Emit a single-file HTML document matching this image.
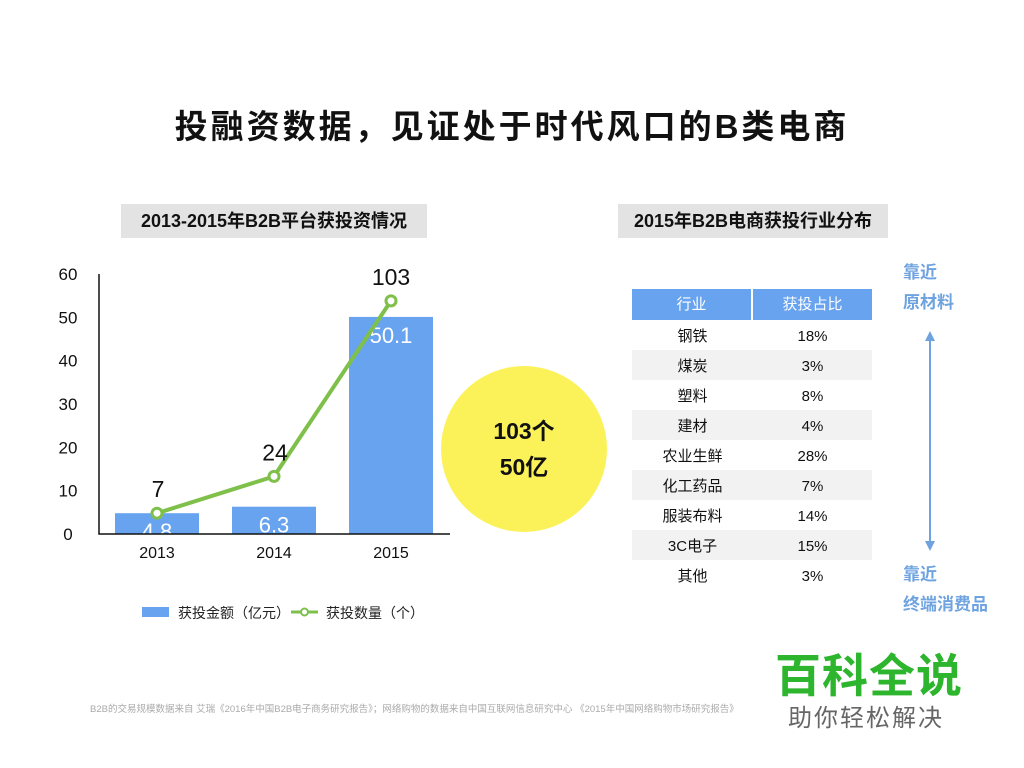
<!DOCTYPE html>
<html><head><meta charset="utf-8">
<style>
body{margin:0;width:1024px;height:768px;background:#fff;position:relative;overflow:hidden;font-family:"Liberation Sans","Noto Sans CJK SC",sans-serif;}
.abs{position:absolute;}
</style></head>
<body>
<div class="abs" style="left:0;top:100px;width:1024px;text-align:center;font-size:33px;font-weight:bold;letter-spacing:3px;color:#111;">投融资数据，见证处于时代风口的B类电商</div>
<div class="abs" style="left:121px;top:204px;width:306px;height:34px;background:#e3e3e3;text-align:center;line-height:34px;font-size:18px;font-weight:bold;color:#111;">2013-2015年B2B平台获投资情况</div>
<div class="abs" style="left:618px;top:204px;width:270px;height:34px;background:#e3e3e3;text-align:center;line-height:34px;font-size:18px;font-weight:bold;color:#111;">2015年B2B电商获投行业分布</div>

<svg class="abs" style="left:0;top:0" width="1024" height="768" id="chart"></svg>

<div class="abs" style="left:441px;top:366px;width:166px;height:166px;border-radius:50%;background:#fbf25a;text-align:center;font-size:23px;font-weight:bold;line-height:36px;padding-top:47px;box-sizing:border-box;color:#111;">103个<br>50亿</div>

<div class="abs" style="left:632px;top:289px;width:240px;" id="tbl"></div>

<div class="abs" style="left:903px;top:258px;font-size:17px;font-weight:bold;color:#6fa3e0;line-height:30px;">靠近<br>原材料</div>
<div class="abs" style="left:903px;top:560px;font-size:17px;font-weight:bold;color:#6fa3e0;line-height:30px;">靠近<br>终端消费品</div>
<svg class="abs" style="left:920px;top:328px" width="20" height="226">
<line x1="10" y1="8" x2="10" y2="218" stroke="#6fa3e0" stroke-width="2"/>
<polygon points="10,3 5,13 15,13" fill="#6fa3e0"/><polygon points="10,223 5,213 15,213" fill="#6fa3e0"/></svg>

<div class="abs" style="left:90px;top:701px;width:655px;overflow:hidden;white-space:nowrap;font-size:9.5px;color:#aaa;">B2B的交易规模数据来自 艾瑞《2016年中国B2B电子商务研究报告》；网络购物的数据来自中国互联网信息研究中心 《2015年中国网络购物市场研究报告》</div>
<div class="abs" style="left:775px;top:640px;font-size:46px;font-weight:bold;color:#2db52d;letter-spacing:1px;">百科全说</div>
<div class="abs" style="left:788px;top:698px;font-size:24px;color:#666;letter-spacing:2px;">助你轻松解决</div>

<script>
const years=["2013","2014","2015"];
const amounts=[4.8,6.3,50.1];
const countPos=[4.8,13.3,53.8];
const countLabels=["7","24","103"];
const yTicks=[0,10,20,30,40,50,60];
const industries=["钢铁","煤炭","塑料","建材","农业生鲜","化工药品","服装布料","3C电子","其他"];
const shares=["18%","3%","8%","4%","28%","7%","14%","15%","3%"];

const NS="http://www.w3.org/2000/svg";
const svg=document.getElementById('chart');
function mk(t,a,txt){const e=document.createElementNS(NS,t);for(const k in a)e.setAttribute(k,a[k]);if(txt!==undefined)e.textContent=txt;svg.appendChild(e);return e;}
const y=v=>534-v*(260/60);
const x=i=>157+i*117;
const font='"Liberation Sans","Noto Sans CJK SC",sans-serif';
yTicks.forEach(t=>{const e=mk('text',{x:68,y:y(t)+6,'text-anchor':'middle','font-size':17,fill:'#111','font-family':font},t);

});
amounts.forEach((v,i)=>{const r=mk('rect',{x:x(i)-42,y:y(v),width:84,height:534-y(v),fill:'#67a3ee'});


const l=mk('text',{x:x(i),y:y(v)+26,'text-anchor':'middle','font-size':22,fill:'#fff','font-family':font},v);


const xl=mk('text',{x:x(i),y:558,'text-anchor':'middle','font-size':16,fill:'#111','font-family':font},years[i]);

});
const ax=mk('path',{d:'M99 274 V534 H450',stroke:'#111','stroke-width':1.5,fill:'none'});


const pl=mk('polyline',{points:countPos.map((v,i)=>x(i)+','+y(v)).join(' '),fill:'none',stroke:'#7ec04a','stroke-width':4});


countPos.forEach((v,i)=>{const c=mk('circle',{cx:x(i),cy:y(v),r:5,fill:'#fff',stroke:'#7ec04a','stroke-width':3});


const t=mk('text',{x:x(i)+(i==2?0:1),y:y(v)-16,'text-anchor':'middle','font-size':23,fill:'#111','font-family':font},countLabels[i]);

});
const lg1=mk('rect',{x:142,y:607,width:27,height:10,fill:'#67a3ee'});


const lt1=mk('text',{x:178,y:618,'font-size':14,fill:'#222','font-family':font},'获投金额（亿元）');


const lg2=mk('line',{x1:291,y1:612,x2:318,y2:612,stroke:'#7ec04a','stroke-width':3});


const lc=mk('circle',{cx:304.5,cy:612,r:3.5,fill:'#fff',stroke:'#7ec04a','stroke-width':2});


const lt2=mk('text',{x:326,y:618,'font-size':14,fill:'#222','font-family':font},'获投数量（个）');



const tbl=document.getElementById('tbl');
let h='<div style="display:flex;height:31px;line-height:31px;background:#67a3ee;color:#fff;font-size:15px;text-align:center;"><div style="width:119px;border-right:2px solid #fff;">行业</div><div style="flex:1">获投占比</div></div>';
industries.forEach((n,i)=>{h+='<div style="display:flex;height:30px;line-height:34px;font-size:15px;color:#111;text-align:center;background:'+(i%2?'#f2f2f2':'#fff')+'"><div style="width:121px">'+n+'</div><div style="flex:1">'+shares[i]+'</div></div>';});
tbl.innerHTML=h;
</script>
</body></html>
